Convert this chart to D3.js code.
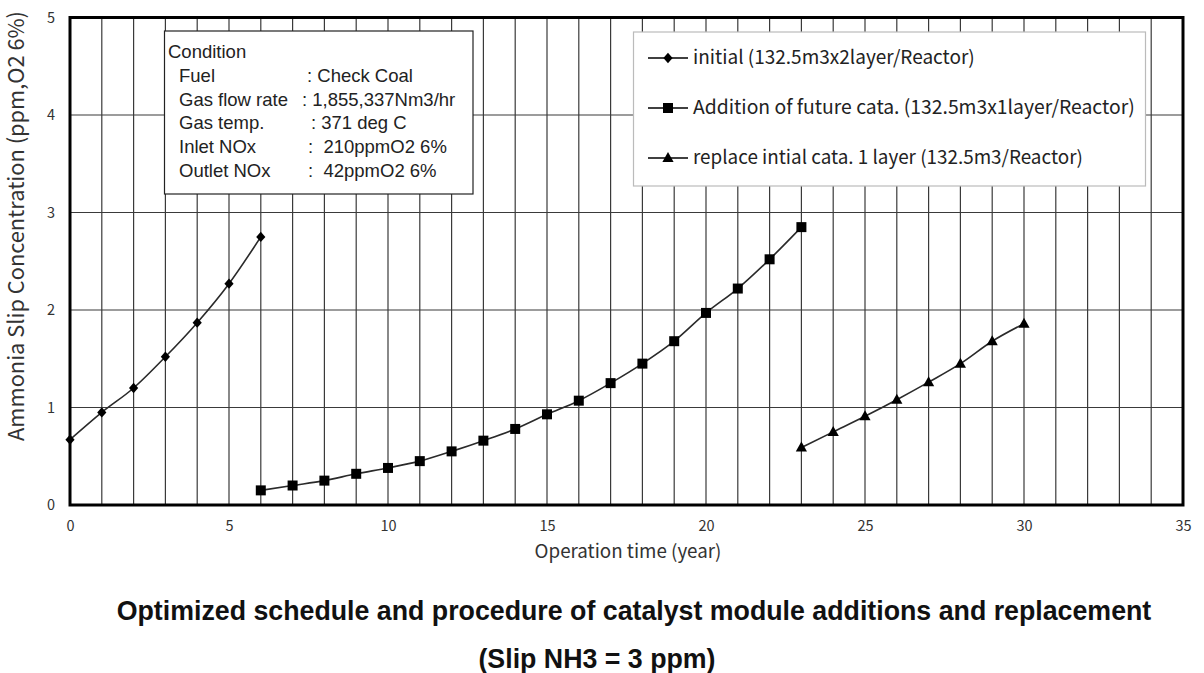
<!DOCTYPE html>
<html><head><meta charset="utf-8">
<script src="https://cdn.jsdelivr.net/npm/d3@7"></script>
<style>
html,body{margin:0;padding:0;background:#fff;}
svg{display:block;}
</style></head>
<body>
<svg id="c" width="1204" height="673"></svg>
<script>
// ---- data ----
const initialYears = [0,1,2,3,4,5,6];
const initialSlip  = [0.67,0.95,1.20,1.52,1.87,2.27,2.75];
const additionYears = [6,7,8,9,10,11,12,13,14,15,16,17,18,19,20,21,22,23];
const additionSlip  = [0.15,0.20,0.25,0.32,0.38,0.45,0.55,0.66,0.78,0.93,1.07,1.25,1.45,1.68,1.97,2.22,2.52,2.85];
const replaceYears = [23,24,25,26,27,28,29,30];
const replaceSlip  = [0.59,0.75,0.91,1.08,1.26,1.45,1.68,1.86];
const xTicks = [0,5,10,15,20,25,30,35];
const yTicks = [0,1,2,3,4,5];
const seriesNames = [
  "initial (132.5m3x2layer/Reactor)",
  "Addition of future cata. (132.5m3x1layer/Reactor)",
  "replace intial cata. 1 layer (132.5m3/Reactor)"
];
const seriesMarkers = ["diamond","square","triangle"];
const conditionTitle = "Condition";
const conditionLabels = ["Fuel","Gas flow rate","Gas temp.","Inlet NOx","Outlet NOx"];
const conditionValues = [": Check Coal",": 1,855,337Nm3/hr",": 371 deg C",":  210ppmO2 6%",":  42ppmO2 6%"];
const xTitle = "Operation time (year)";
const yTitle = "Ammonia Slip Concentration (ppm,O2 6%)";
const titleLines = ["Optimized schedule and procedure of catalyst module additions and replacement","(Slip NH3 = 3 ppm)"];

// ---- layout ----
const svg = d3.select("#c");
const L = 70, R = 1183, T = 17.5, B = 505;
const x = d3.scaleLinear().domain([0,35]).range([L,R]);
const y = d3.scaleLinear().domain([0,5]).range([B,T]);
const jp = "'Noto Sans CJK JP', 'Noto Sans', sans-serif";
const ar = "'Liberation Sans', Arial, sans-serif";

function fit(sel, w){
  const n = sel.node();
  const cur = n.getComputedTextLength();
  const fs = parseFloat(sel.attr("font-size"));
  sel.attr("font-size", (fs*w/cur).toFixed(2));
}

// grid
const g = svg.append("g");
g.append("g").selectAll("line").data(d3.range(1,35)).join("line")
  .attr("x1",d=>x(d)).attr("x2",d=>x(d)).attr("y1",T).attr("y2",B)
  .attr("stroke","#3a3a3a").attr("stroke-width",1.2);
g.append("g").selectAll("line").data(d3.range(1,5)).join("line")
  .attr("x1",L).attr("x2",R).attr("y1",d=>y(d)).attr("y2",d=>y(d))
  .attr("stroke","#3a3a3a").attr("stroke-width",1.2);
// frame
g.append("rect").attr("x",L).attr("y",T).attr("width",R-L).attr("height",B-T)
  .attr("fill","none").attr("stroke","#000").attr("stroke-width",3);

// axes (labels only)
const xAxis = d3.axisBottom(x).tickValues(xTicks).tickFormat(d3.format("d")).tickSize(0).tickPadding(16);
const xa = svg.append("g").attr("transform",`translate(0,${B})`).call(xAxis);
xa.select(".domain").remove();
xa.selectAll("text").attr("font-family",jp).attr("font-size",14.5).attr("fill","#333");
const yAxis = d3.axisLeft(y).tickValues(yTicks).tickFormat(d3.format("d")).tickSize(0).tickPadding(15);
const ya = svg.append("g").attr("transform",`translate(${L},0)`).call(yAxis);
ya.select(".domain").remove();
ya.selectAll("text").attr("font-family",jp).attr("font-size",14.5).attr("fill","#333");

// axis titles
const xt = svg.append("text").attr("x",628).attr("y",558).attr("text-anchor","middle")
  .attr("font-family",jp).attr("font-size",15).attr("fill","#333").text(xTitle);
fit(xt, 187);
const yt = svg.append("text").attr("transform","translate(24,226) rotate(-90)").attr("text-anchor","middle")
  .attr("font-family",jp).attr("font-size",15).attr("fill","#333").text(yTitle);
fit(yt, 430);

// symbols
const symDiamond = {draw(ctx,s){const w=4.6,h=5.2;ctx.moveTo(0,-h);ctx.lineTo(w,0);ctx.lineTo(0,h);ctx.lineTo(-w,0);ctx.closePath();}};
const symSquare = {draw(ctx,s){const a=5;ctx.rect(-a,-a,2*a,2*a);}};
const symTri = {draw(ctx,s){const w=5.6,h=10;ctx.moveTo(0,-h*0.6);ctx.lineTo(w,h*0.4);ctx.lineTo(-w,h*0.4);ctx.closePath();}};
const symMap = {diamond:symDiamond,square:symSquare,triangle:symTri};

const series = [
  {xs:initialYears, ys:initialSlip, m:"diamond"},
  {xs:additionYears, ys:additionSlip, m:"square"},
  {xs:replaceYears, ys:replaceSlip, m:"triangle"}
];
const line = d3.line().x(d=>x(d[0])).y(d=>y(d[1])).curve(d3.curveMonotoneX);
series.forEach(s=>{
  const pts = s.xs.map((v,i)=>[v,s.ys[i]]);
  svg.append("path").datum(pts).attr("d",line).attr("fill","none")
    .attr("stroke","#2a2a2a").attr("stroke-width",1.6);
  svg.append("g").selectAll("path").data(pts).join("path")
    .attr("transform",d=>`translate(${x(d[0])},${y(d[1])})`)
    .attr("d",d3.symbol().type(symMap[s.m])()).attr("fill","#000");
});

// condition box
const cb = svg.append("g");
const cfs = 18.5;
cb.append("rect").attr("x",164.5).attr("y",31).attr("width",308.5).attr("height",163)
  .attr("fill","#fff").attr("stroke","#222").attr("stroke-width",1.2);
cb.append("text").attr("x",168).attr("y",58).attr("font-family",ar).attr("font-size",cfs)
  .attr("fill","#222").text(conditionTitle);
const rowY = [82,106,129,153,177];
const colonX = [307,302,311,308,308];
conditionLabels.forEach((lab,i)=>{
  cb.append("text").attr("x",179).attr("y",rowY[i]).attr("font-family",ar).attr("font-size",cfs)
    .attr("fill","#222").text(lab);
  cb.append("text").attr("x",colonX[i]).attr("y",rowY[i]).attr("font-family",ar).attr("font-size",cfs)
    .attr("fill","#222").attr("xml:space","preserve").style("white-space","pre").text(conditionValues[i]);
});

// legend
const lg = svg.append("g");
lg.append("rect").attr("x",633.5).attr("y",32).attr("width",512).attr("height",154)
  .attr("fill","#fff").attr("stroke","#bbb").attr("stroke-width",1.2);
const legY = [58,108,158];
const legW = [282,442,390];
seriesNames.forEach((nm,i)=>{
  lg.append("line").attr("x1",648).attr("x2",688).attr("y1",legY[i]).attr("y2",legY[i])
    .attr("stroke","#000").attr("stroke-width",1.6);
  lg.append("path").attr("transform",`translate(668,${legY[i]})`)
    .attr("d",d3.symbol().type(symMap[seriesMarkers[i]])()).attr("fill","#000");
  const t = lg.append("text").attr("x",693).attr("y",legY[i]+5.5).attr("font-family",jp)
    .attr("font-size",16).attr("fill","#222").text(nm);
  fit(t, legW[i]);
});

// titles
const t1 = svg.append("text").attr("x",634).attr("y",620).attr("text-anchor","middle")
  .attr("font-family",ar).attr("font-weight","bold").attr("font-size",21).attr("fill","#111").text(titleLines[0]);
fit(t1, 1035);
const fs1 = t1.attr("font-size");
svg.append("text").attr("x",597).attr("y",668).attr("text-anchor","middle")
  .attr("font-family",ar).attr("font-weight","bold").attr("font-size",fs1).attr("fill","#111").text(titleLines[1]);
</script>
</body></html>
